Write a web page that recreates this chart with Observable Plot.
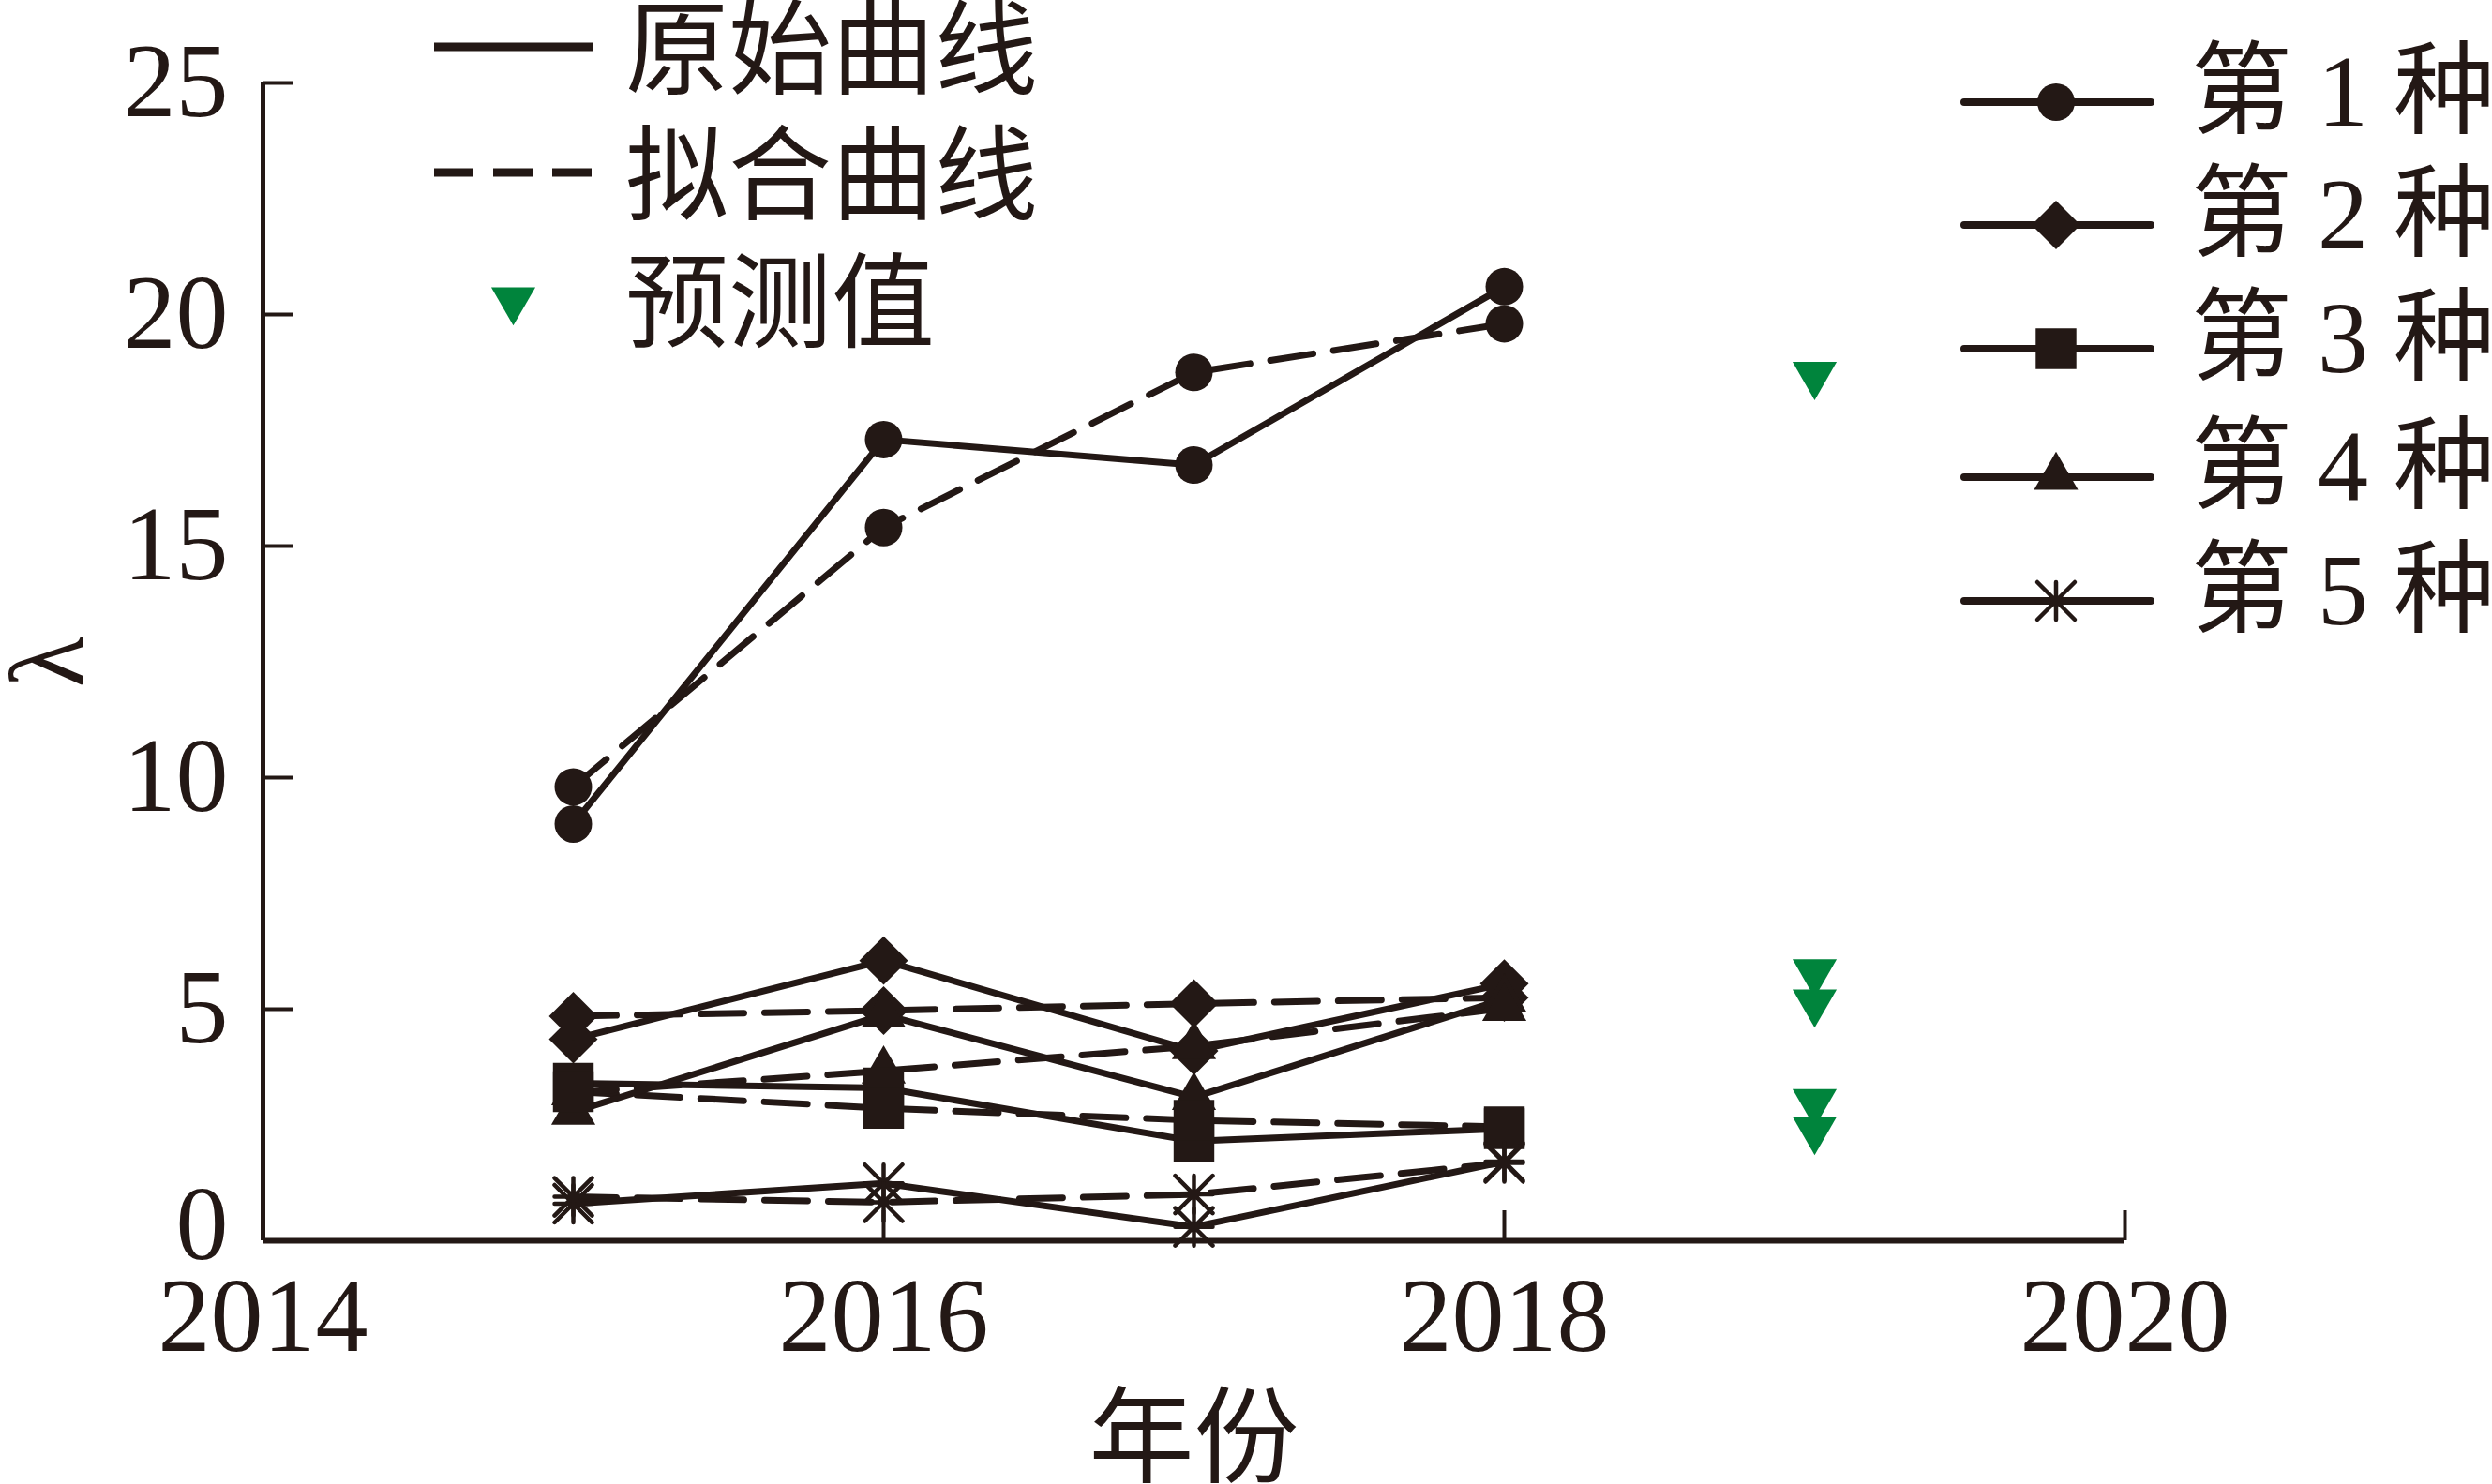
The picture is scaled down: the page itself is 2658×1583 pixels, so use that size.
<!DOCTYPE html>
<html>
<head>
<meta charset="utf-8">
<script src="https://cdn.jsdelivr.net/npm/d3@7"></script>
<script src="https://cdn.jsdelivr.net/npm/@observablehq/plot@0.6"></script>
<style>
  html, body { margin: 0; padding: 0; background: #fff; }
  #wrap { position: relative; width: 2658px; height: 1583px; overflow: hidden; }
</style>
</head>
<body>
<div id="wrap"></div>
<script>
// ---------------- data ----------------
const years = [2015, 2016, 2017, 2018];
const predYear = 2019;
const seriesNames = ["第 1 种", "第 2 种", "第 3 种", "第 4 种", "第 5 种"];
// 原始曲线 (solid)
const orig1 = [9.0, 17.3, 16.75, 20.6];
const orig2 = [4.35, 6.05, 4.1, 5.55];
const orig3 = [3.4, 3.3, 2.15, 2.42];
const orig4 = [2.78, 4.88, 3.1, 5.22];
const orig5 = [0.8, 1.24, 0.3, 1.71];
// 拟合曲线 (dashed)
const fit1 = [9.8, 15.4, 18.75, 19.8];
const fit2 = [4.85, 4.97, 5.12, 5.25];
const fit3 = [3.22, 2.86, 2.6, 2.46];
const fit4 = [3.2, 3.67, 4.2, 5.02];
const fit5 = [0.95, 0.83, 1.0, 1.68];
// 预测值 (2019)
const predicted = [18.7, 5.8, 3.0, 5.15, 2.4];
const legendKinds = ["原始曲线", "拟合曲线", "预测值"];
const xLabel = "年份";
const yLabel = "λ";
const xTicks = [2014, 2016, 2018, 2020];
const yTicks = [0, 5, 10, 15, 20, 25];
const xDomain = [2014, 2020];
const yDomain = [0, 25];

// ---------------- style ----------------
const ink = "#231815";
const green = "#00843c";
const font = "'Liberation Serif','Noto Sans CJK SC',serif";
const W = 2658, H = 1583;
const mL = 280, mR = 392, mT = 88, mB = 260;
const innerW = W - mL - mR, innerH = H - mT - mB;
const tickLen = 32;

const triangleDown = {
  draw(context, size) {
    const y = -Math.sqrt(size / (Math.sqrt(3) * 3));
    context.moveTo(0, -y * 2);
    context.lineTo(-Math.sqrt(3) * y, y);
    context.lineTo(Math.sqrt(3) * y, y);
    context.closePath();
  }
};
const star8 = {
  draw(context, size) {
    const r = Math.sqrt(size / Math.PI);
    context.moveTo(0, -r); context.lineTo(0, r);
    context.moveTo(-r, 0); context.lineTo(r, 0);
    context.moveTo(-r, -r); context.lineTo(r, r);
    context.moveTo(-r, r); context.lineTo(r, -r);
  }
};

const origAll = [orig1, orig2, orig3, orig4, orig5];
const fitAll = [fit1, fit2, fit3, fit4, fit5];
const symbols = ["circle", "diamond2", "square", "triangle", star8];
const d3symbols = [d3.symbolCircle, d3.symbolDiamond2, d3.symbolSquare, d3.symbolTriangle, star8];
const radii = [20, 23.4, 24.5, 17.5, 20];
const drawOrder = [0, 1, 3, 2, 4];

const origRows = [], fitRows = [];
origAll.forEach((arr, i) => arr.forEach((v, j) => origRows.push({series: seriesNames[i], s: i, year: years[j], value: v})));
fitAll.forEach((arr, i) => arr.forEach((v, j) => fitRows.push({series: seriesNames[i], s: i, year: years[j], value: v})));
const predRows = predicted.map((v, i) => ({series: seriesNames[i], year: predYear, value: v}));

const dotMarks = drawOrder.map(i => {
  const rows = origRows.filter(d => d.s === i).concat(fitRows.filter(d => d.s === i));
  const isStroke = i === 4;
  return Plot.dot(rows, {
    x: "year", y: "value", symbol: symbols[i], r: radii[i],
    fill: isStroke ? "none" : ink, stroke: isStroke ? ink : "none",
    strokeWidth: isStroke ? 4.5 : 0, strokeLinecap: "round"
  });
});

const chart = Plot.plot({
  width: W, height: H,
  marginLeft: mL, marginRight: mR, marginTop: mT, marginBottom: mB,
  style: {fontFamily: font, fontSize: "112px", color: ink, background: "white", overflow: "visible"},
  x: {domain: xDomain},
  y: {domain: yDomain},
  marks: [
    Plot.axisX(xTicks, {tickSize: 0, tickPadding: 38, tickFormat: d => String(d), fontSize: 112,
      label: xLabel, labelAnchor: "center", labelOffset: 249, labelArrow: "none"}),
    Plot.axisY(yTicks.filter(t => t !== 0), {tickSize: 0, tickPadding: 37, fontSize: 112,
      label: yLabel, labelAnchor: "center", labelOffset: 272, labelArrow: "none"}),
    Plot.axisY(yTicks.filter(t => t === 0), {tickSize: 0, tickPadding: 37, fontSize: 112, dy: -16, label: null}),
    Plot.line(fitRows, {x: "year", y: "value", z: "series", stroke: ink, strokeWidth: 7, strokeDasharray: "46,22"}),
    Plot.line(origRows, {x: "year", y: "value", z: "series", stroke: ink, strokeWidth: 7}),
    ...dotMarks,
    Plot.dot(predRows, {x: "year", y: "value", symbol: triangleDown, r: 17.5, fill: green}),
    Plot.tickX(xTicks, {x: d => d, stroke: ink, strokeWidth: 4, insetTop: innerH - tickLen}),
    Plot.tickY(yTicks, {y: d => d, stroke: ink, strokeWidth: 4, insetRight: innerW - tickLen}),
    Plot.ruleX([xDomain[0]], {stroke: ink, strokeWidth: 5}),
    Plot.ruleY([yDomain[0]], {stroke: ink, strokeWidth: 6})
  ]
});

const wrap = document.getElementById("wrap");
wrap.appendChild(chart);

// ---------------- legends (overlay) ----------------
const lg = d3.select(wrap).append("svg")
  .attr("width", W).attr("height", H)
  .style("position", "absolute").style("left", "0px").style("top", "0px")
  .style("pointer-events", "none");

// left legend: line styles + predicted
const leftRowsY = [50, 184, 320];
const lx0 = 463, lx1 = 632, ltx = 667;
legendKinds.forEach((name, k) => {
  const y = leftRowsY[k];
  if (k < 2) {
    lg.append("line").attr("x1", lx0).attr("x2", lx1).attr("y1", y).attr("y2", y)
      .attr("stroke", ink).attr("stroke-width", 9)
      .attr("stroke-dasharray", k === 1 ? "42,21" : null);
  } else {
    lg.append("path").attr("transform", `translate(${(lx0 + lx1) / 2},${y})`)
      .attr("d", d3.symbol(triangleDown, Math.PI * 17.5 * 17.5)()).attr("fill", green);
  }
  lg.append("text").attr("x", ltx).attr("y", y + 5).attr("dominant-baseline", "central")
    .attr("font-family", font).attr("font-size", 110).attr("fill", ink).text(name);
});

// right legend: series
const rightRowsY = [109, 240, 372, 509, 641];
const rx0 = 2095, rx1 = 2294, rmx = 2193, rtx = 2337;
seriesNames.forEach((name, i) => {
  const y = rightRowsY[i];
  lg.append("line").attr("x1", rx0).attr("x2", rx1).attr("y1", y).attr("y2", y)
    .attr("stroke", ink).attr("stroke-width", 8).attr("stroke-linecap", "round");
  const isStroke = i === 4;
  lg.append("path").attr("transform", `translate(${rmx},${y})`)
    .attr("d", d3.symbol(d3symbols[i], Math.PI * radii[i] * radii[i])())
    .attr("fill", isStroke ? "none" : ink).attr("stroke", isStroke ? ink : "none")
    .attr("stroke-width", 4.5).attr("stroke-linecap", "round");
  lg.append("text").attr("x", rtx).attr("y", y - 12).attr("dominant-baseline", "central")
    .attr("font-family", font).attr("font-size", 108).attr("fill", ink).text(name);
});
</script>
</body>
</html>
